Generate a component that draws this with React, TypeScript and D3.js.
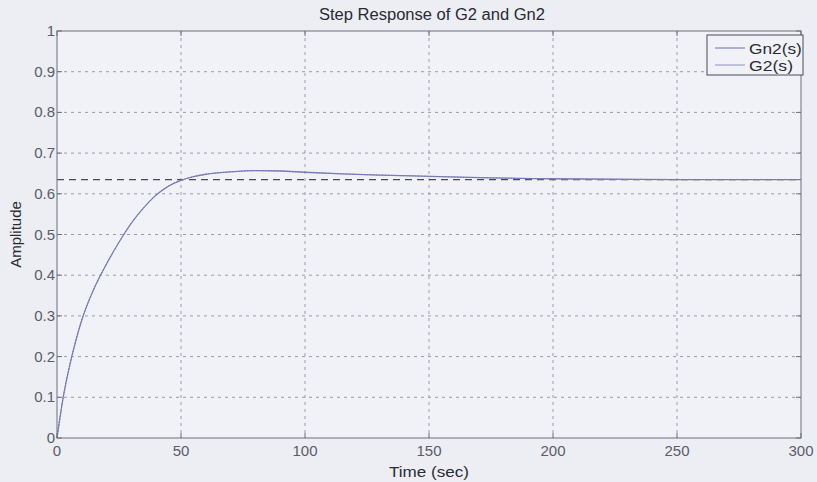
import React from "react";
import * as d3 from "d3";

const title = "Step Response of G2 and Gn2";
const xLabel = "Time (sec)";
const yLabel = "Amplitude";
const xTicks = [0, 50, 100, 150, 200, 250, 300];
const yTicks = [0, 0.1, 0.2, 0.3, 0.4, 0.5, 0.6, 0.7, 0.8, 0.9, 1];
const yTickLabels = ["0", "0.1", "0.2", "0.3", "0.4", "0.5", "0.6", "0.7", "0.8", "0.9", "1"];
const seriesNames = ["Gn2(s)", "G2(s)"];
const steadyState = 0.635;

const time = [0, 2.5, 5, 7.5, 10, 12.5, 15, 20, 25, 30, 35, 40, 45, 50, 55, 60, 70, 80, 90, 100, 115, 130, 150, 175, 200, 250, 300];
const gn2 = [0, 0.1, 0.175, 0.237, 0.29, 0.332, 0.368, 0.428, 0.481, 0.528, 0.566, 0.597, 0.619, 0.633, 0.642, 0.648, 0.654, 0.657, 0.656, 0.653, 0.649, 0.646, 0.643, 0.639, 0.637, 0.635, 0.635];
const g2 = [0, 0.1, 0.175, 0.237, 0.29, 0.332, 0.368, 0.428, 0.481, 0.528, 0.566, 0.597, 0.619, 0.633, 0.642, 0.648, 0.654, 0.657, 0.656, 0.653, 0.649, 0.646, 0.643, 0.639, 0.637, 0.635, 0.635];

export default function App() {
  const W = 817, H = 482;
  const m = { left: 57, right: 16, top: 31, bottom: 44 };
  const x = d3.scaleLinear().domain([0, 300]).range([m.left, W - m.right]);
  const y = d3.scaleLinear().domain([0, 1]).range([H - m.bottom, m.top]);
  const line = d3.line<number>().x((_, i) => x(time[i])).y((d) => y(d)).curve(d3.curveMonotoneX);
  const font = "'Liberation Sans', Arial, sans-serif";
  const x0 = x(0), x1 = x(300), y0 = y(0), y1 = y(1);
  const tickColor = "#5a5c66";
  return (
    <svg width={W} height={H} style={{ position: "fixed", left: 0, top: 0, display: "block", background: "#eceef4" }} fontFamily={font}>
      <rect x={x0} y={y1} width={x1 - x0} height={y0 - y1} fill="#f1f2f7" />
      {xTicks.slice(1, -1).map((t) => (
        <line key={"gx" + t} x1={x(t)} x2={x(t)} y1={y1} y2={y0} stroke="#9a9ca6" strokeWidth={1} strokeDasharray="3,4" />
      ))}
      {yTicks.slice(1, -1).map((t) => (
        <line key={"gy" + t} x1={x0} x2={x1} y1={y(t)} y2={y(t)} stroke="#9a9ca6" strokeWidth={1} strokeDasharray="3,4" />
      ))}
      <line x1={x0} x2={x1} y1={y(steadyState)} y2={y(steadyState)} stroke="#4a4a55" strokeWidth={1.2} strokeDasharray="7,5" />
      <path d={line(g2) || ""} fill="none" stroke="#8c8fc0" strokeWidth={1.3} />
      <path d={line(gn2) || ""} fill="none" stroke="#6a6fb0" strokeWidth={1} strokeDasharray="2,1" />
      <rect x={x0} y={y1} width={x1 - x0} height={y0 - y1} fill="none" stroke="#6c6e7c" strokeWidth={1} />
      {xTicks.map((t) => (
        <g key={"tx" + t}>
          <line x1={x(t)} x2={x(t)} y1={y0} y2={y0 - 5} stroke="#6c6e7c" />
          <line x1={x(t)} x2={x(t)} y1={y1} y2={y1 + 5} stroke="#6c6e7c" />
          <text x={x(t)} y={y0 + 18} textAnchor="middle" fontSize={15} fill={tickColor}>{t}</text>
        </g>
      ))}
      {yTicks.map((t, i) => (
        <g key={"ty" + t}>
          <line x1={x0} x2={x0 + 5} y1={y(t)} y2={y(t)} stroke="#6c6e7c" />
          <line x1={x1} x2={x1 - 5} y1={y(t)} y2={y(t)} stroke="#6c6e7c" />
          <text x={x0 - 2} y={y(t) + 5} textAnchor="end" fontSize={15} fill={tickColor}>{yTickLabels[i]}</text>
        </g>
      ))}
      <text x={(x0 + x1) / 2} y={H - 5} textAnchor="middle" fontSize={15} fill="#2a2a33" textLength={80} lengthAdjust="spacingAndGlyphs">{xLabel}</text>
      <text transform={`translate(21,${(y0 + y1) / 2}) rotate(-90)`} textAnchor="middle" fontSize={15} fill="#2a2a33">{yLabel}</text>
      <text x={432} y={20} textAnchor="middle" fontSize={16} fill="#2a2a33" textLength={226} lengthAdjust="spacingAndGlyphs">{title}</text>
      <g>
        <rect x={707} y={35} width={96} height={40} fill="#f1f2f7" stroke="#4a4a55" strokeWidth={1} />
        {seriesNames.map((n, i) => (
          <g key={n}>
            <line x1={715} x2={745} y1={48 + i * 17} y2={48 + i * 17} stroke={i === 0 ? "#6a6fb0" : "#8c8fc0"} strokeWidth={1} />
            <text x={749} y={54 + i * 17} fontSize={15} fill="#2a2a33" textLength={n.length * 8.8} lengthAdjust="spacingAndGlyphs">{n}</text>
          </g>
        ))}
      </g>
    </svg>
  );
}
